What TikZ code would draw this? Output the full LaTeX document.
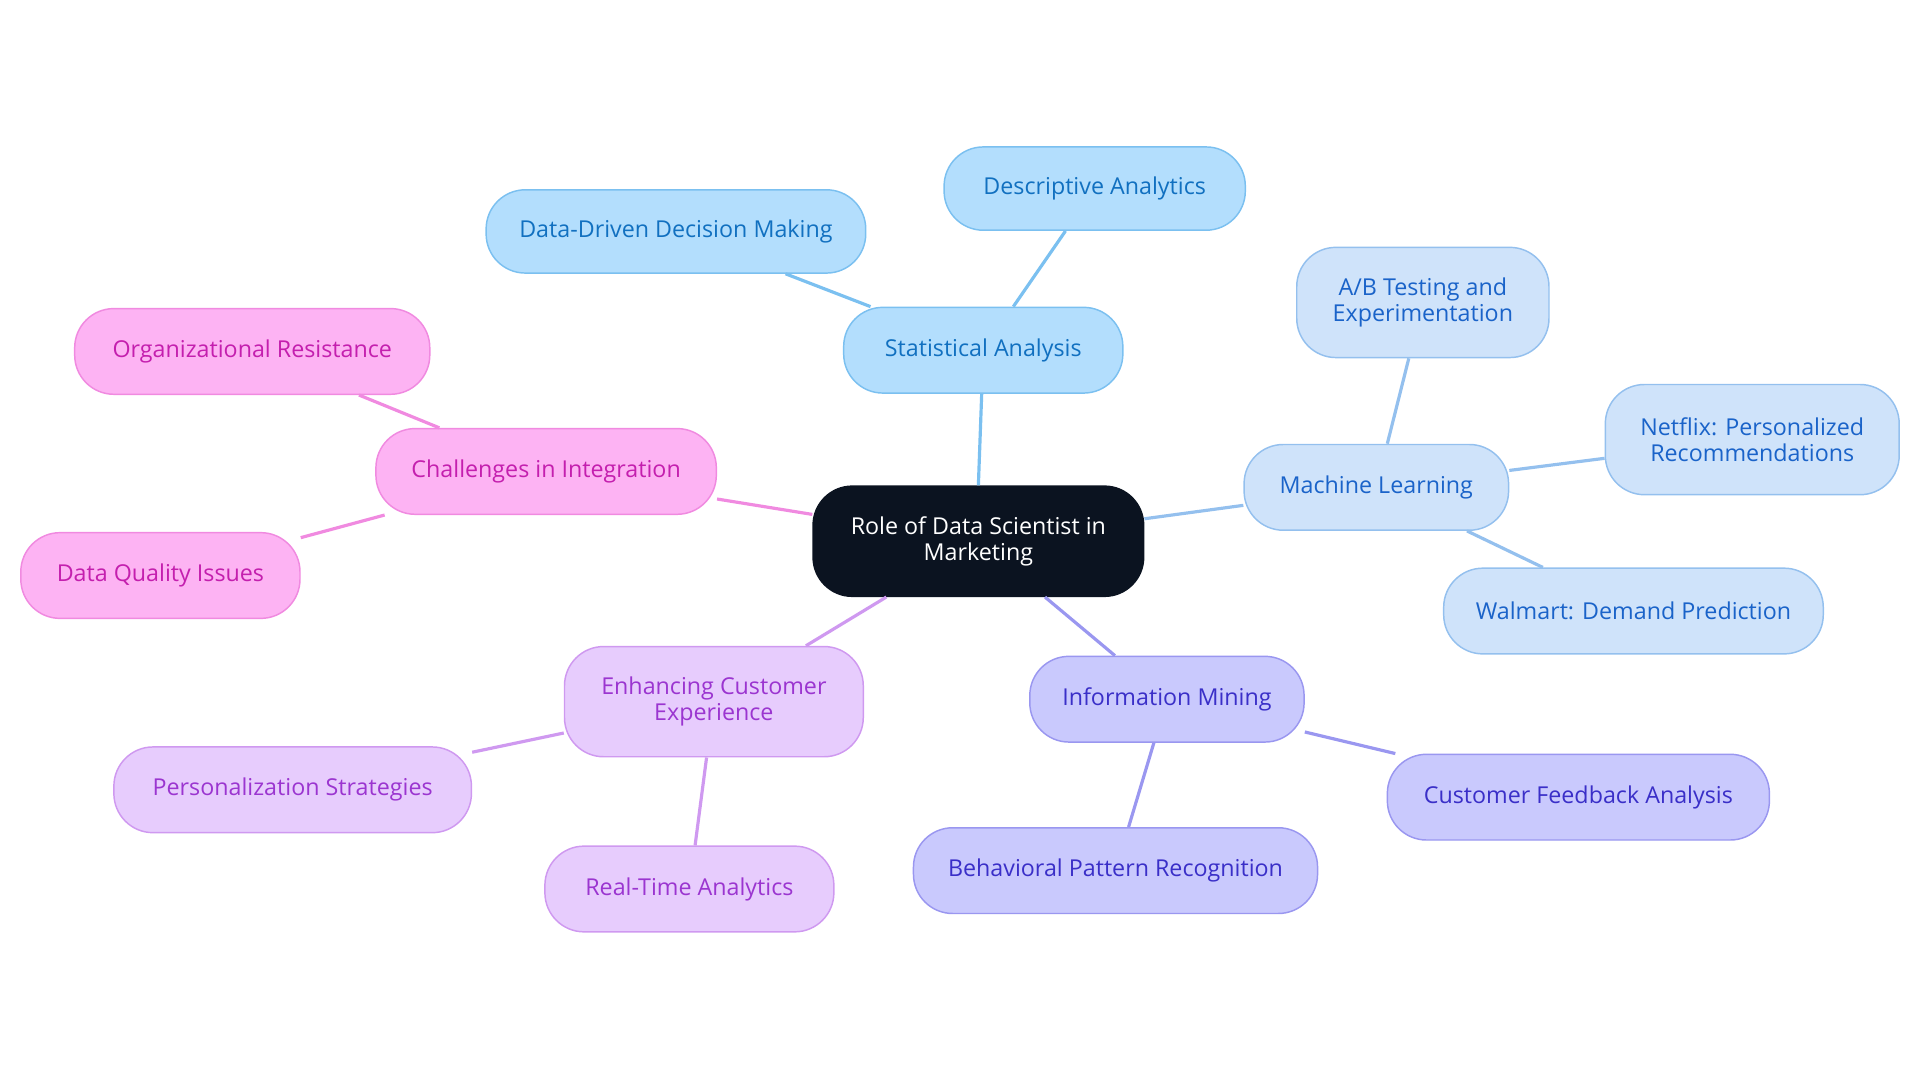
\documentclass[tikz,border=0pt]{standalone}
\usepackage{fontspec}
\setmainfont{Open Sans}
\definecolor{cen}{HTML}{0B1320}
\definecolor{bF}{HTML}{B3DEFD}\definecolor{bD}{HTML}{7BC0F0}\definecolor{bT}{HTML}{1170C0}
\definecolor{mF}{HTML}{CFE3FA}\definecolor{mD}{HTML}{94C0EE}\definecolor{mT}{HTML}{1A63C9}
\definecolor{iF}{HTML}{C9C9FD}\definecolor{iD}{HTML}{9A97F0}\definecolor{iT}{HTML}{3A2FC8}
\definecolor{eF}{HTML}{E7CCFD}\definecolor{eD}{HTML}{CF99F0}\definecolor{eT}{HTML}{9B35D0}
\definecolor{cF}{HTML}{FDB3F3}\definecolor{cD}{HTML}{F08AE0}\definecolor{cT}{HTML}{C41FAE}
\tikzset{
 box/.style={rounded corners=16pt,align=center,font=\fontsize{9.5}{10.5}\selectfont,inner sep=0pt,line width=0.6pt},
 fam/.style n args={3}{box,fill=#1,draw=#2,text=#3},
 bl/.style={fam={bF}{bD}{bT}}, ml/.style={fam={mF}{mD}{mT}}, il/.style={fam={iF}{iD}{iT}},
 el/.style={fam={eF}{eD}{eT}}, cl/.style={fam={cF}{cD}{cT}},
 e/.style={line width=1.3pt}
}
\newcommand{\bx}[6]{\node[#1,minimum width=#4*0.5pt,minimum height=#5*0.5pt] (#6) at (#2,#3) {#6text};}
\begin{document}
\begin{tikzpicture}[x=0.5pt,y=-0.5pt]
\useasboundingbox (0,0) rectangle (1568,884);
\def\N#1#2#3#4#5#6#7{\node[#1,minimum width=#4*0.5pt,minimum height=#5*0.5pt] (#6) at (#2,#3) {#7};}
\N{box,fill=cen,draw=cen,text=white}{799}{442}{270}{90}{C}{Role of Data Scientist in\\Marketing}
\N{bl}{803}{286}{228}{70}{S}{Statistical Analysis}
\N{bl}{894}{154}{246}{68}{S1}{Descriptive Analytics}
\N{bl}{552}{189}{310}{68}{S2}{Data-Driven Decision Making}
\N{ml}{1124}{398}{216}{70}{M}{Machine Learning}
\N{ml}{1162}{247}{206}{90}{M1}{A/B Testing and\\Experimentation}
\N{ml}{1431}{359}{240}{90}{M2}{Netflix: Personalized\\Recommendations}
\N{ml}{1334}{499}{310}{70}{M3}{Walmart: Demand Prediction}
\N{il}{953}{571}{224}{70}{I}{Information Mining}
\N{il}{1289}{651}{312}{70}{I1}{Customer Feedback Analysis}
\N{il}{911}{711}{330}{70}{I2}{Behavioral Pattern Recognition}
\N{el}{583}{573}{244}{90}{E}{Enhancing Customer\\Experience}
\N{el}{239}{645}{292}{70}{E1}{Personalization Strategies}
\N{el}{563}{726}{236}{70}{E2}{Real-Time Analytics}
\N{cl}{446}{385}{278}{70}{H}{Challenges in Integration}
\N{cl}{206}{287}{290}{70}{H1}{Organizational Resistance}
\N{cl}{131}{470}{228}{70}{H2}{Data Quality Issues}
\begin{scope}[on background layer/.style={}]
\end{scope}
\draw[e,bD] (C.north) ++(0,0) -- (S);
\draw[e,bD] (S) -- (S1); \draw[e,bD] (S) -- (S2);
\draw[e,mD] (C) -- (M); \draw[e,mD] (M) -- (M1); \draw[e,mD] (M) -- (M2); \draw[e,mD] (M) -- (M3);
\draw[e,iD] (C) -- (I); \draw[e,iD] (I) -- (I1); \draw[e,iD] (I) -- (I2);
\draw[e,eD] (C) -- (E); \draw[e,eD] (E) -- (E1); \draw[e,eD] (E) -- (E2);
\draw[e,cD] (C) -- (H); \draw[e,cD] (H) -- (H1); \draw[e,cD] (H) -- (H2);
\end{tikzpicture}
\end{document}
